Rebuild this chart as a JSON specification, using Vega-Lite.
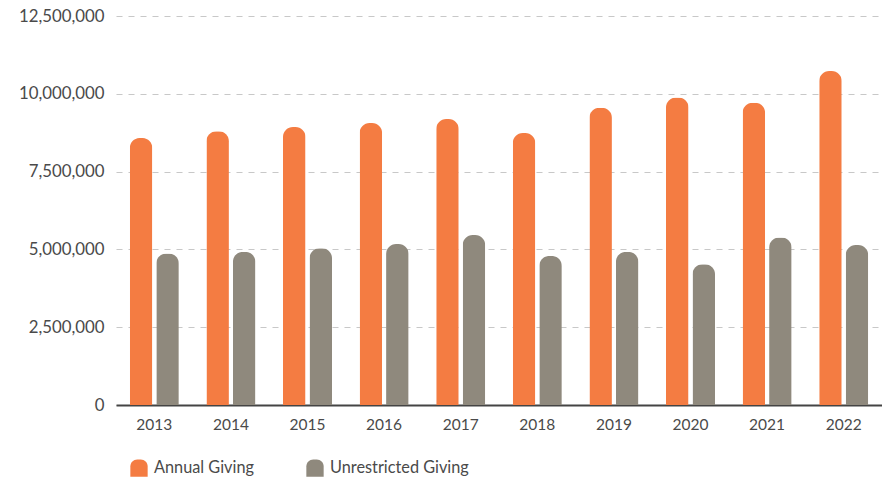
{
  "$schema": "https://vega.github.io/schema/vega-lite/v6.json",
  "width": 766,
  "height": 389,
  "autosize": {"type": "none"},
  "padding": {"left": 116, "top": 16, "right": 0, "bottom": 76},
  "background": "white",
  "config": {
    "view": {"stroke": null},
    "font": "Lato",
    "axis": {"labelFont": "Lato", "labelColor": "#4a4a4a"},
    "legend": {"labelFont": "Lato"}
  },
  "data": {
    "values": [
      {"year": "2013", "series": "Annual Giving", "value": 8580000},
      {"year": "2013", "series": "Unrestricted Giving", "value": 4870000},
      {"year": "2014", "series": "Annual Giving", "value": 8800000},
      {"year": "2014", "series": "Unrestricted Giving", "value": 4920000},
      {"year": "2015", "series": "Annual Giving", "value": 8930000},
      {"year": "2015", "series": "Unrestricted Giving", "value": 5040000},
      {"year": "2016", "series": "Annual Giving", "value": 9060000},
      {"year": "2016", "series": "Unrestricted Giving", "value": 5170000},
      {"year": "2017", "series": "Annual Giving", "value": 9190000},
      {"year": "2017", "series": "Unrestricted Giving", "value": 5460000},
      {"year": "2018", "series": "Annual Giving", "value": 8740000},
      {"year": "2018", "series": "Unrestricted Giving", "value": 4790000},
      {"year": "2019", "series": "Annual Giving", "value": 9550000},
      {"year": "2019", "series": "Unrestricted Giving", "value": 4920000},
      {"year": "2020", "series": "Annual Giving", "value": 9880000},
      {"year": "2020", "series": "Unrestricted Giving", "value": 4520000},
      {"year": "2021", "series": "Annual Giving", "value": 9710000},
      {"year": "2021", "series": "Unrestricted Giving", "value": 5380000},
      {"year": "2022", "series": "Annual Giving", "value": 10730000},
      {"year": "2022", "series": "Unrestricted Giving", "value": 5140000}
    ]
  },
  "mark": {"type": "bar", "cornerRadiusTopLeft": 10, "cornerRadiusTopRight": 10},
  "encoding": {
    "x": {
      "field": "year",
      "type": "ordinal",
      "title": null,
      "scale": {"paddingInner": 0.36, "paddingOuter": 0.18},
      "axis": {
        "labelAngle": 0,
        "labelFontSize": 15.5,
        "labelPadding": 12,
        "ticks": false,
        "domainColor": "#444444",
        "domainWidth": 2,
        "grid": false
      }
    },
    "xOffset": {
      "field": "series",
      "type": "nominal",
      "scale": {"paddingInner": 0.15}
    },
    "y": {
      "field": "value",
      "type": "quantitative",
      "title": null,
      "scale": {"domain": [0, 12500000]},
      "axis": {
        "values": [0, 2500000, 5000000, 7500000, 10000000, 12500000],
        "format": ",d",
        "labelFontSize": 16.8,
        "labelPadding": 12,
        "ticks": false,
        "domain": false,
        "gridColor": "#c8c8c8",
        "gridDash": [6, 6],
        "gridWidth": 1.2
      }
    },
    "color": {
      "field": "series",
      "type": "nominal",
      "title": null,
      "scale": {"domain": ["Annual Giving", "Unrestricted Giving"], "range": ["#F47C42", "#8F897D"]},
      "legend": {
        "orient": "none",
        "direction": "horizontal",
        "legendX": 14,
        "legendY": 443,
        "labelFontSize": 16.3,
        "labelColor": "#4a4a4a",
        "labelOffset": 6,
        "columnPadding": 52,
        "symbolSize": 300,
        "symbolType": "M-1,1V-0.2A0.8,0.8 0 0 1 -0.2,-1H0.2A0.8,0.8 0 0 1 1,-0.2V1Z",
        "symbolStrokeWidth": 0
      }
    }
  }
}
